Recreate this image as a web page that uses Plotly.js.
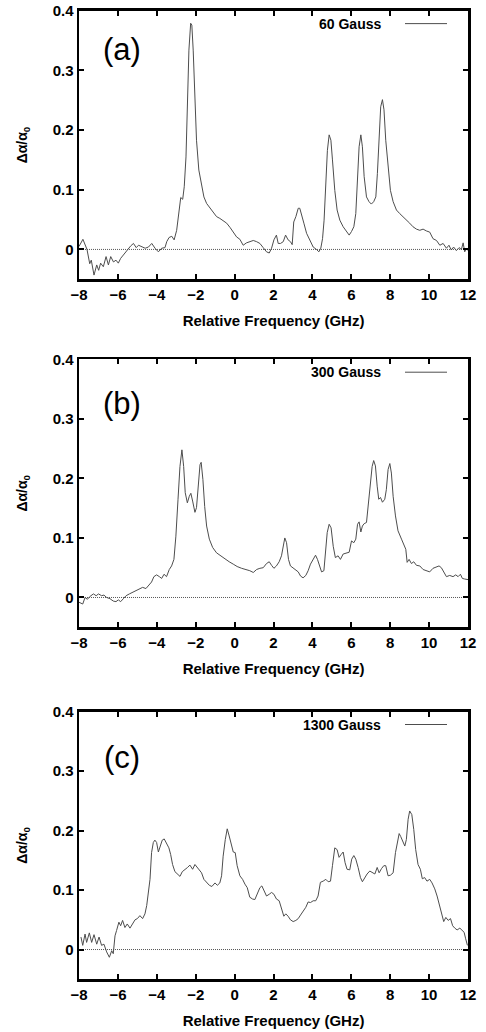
<!DOCTYPE html>
<html>
<head>
<meta charset="utf-8">
<script src="https://cdn.plot.ly/plotly-3.0.1.min.js"></script>
<style>html,body{margin:0;padding:0;background:#fff;}#chart{width:486px;height:1032px;}</style>
</head>
<body>
<div id="chart"></div>
<script>
// ---- Data ----
var panelLabels = ["(a)", "(b)", "(c)"];
var seriesNames = ["60 Gauss", "300 Gauss", "1300 Gauss"];
var xTickVals = [-8, -6, -4, -2, 0, 2, 4, 6, 8, 10, 12];
var yTickVals = [0, 0.1, 0.2, 0.3, 0.4];
var yTickText = ["0", "0.1", "0.2", "0.3", "0.4"];

var freqA = [-8.00,-7.80,-7.59,-7.45,-7.37,-7.23,-7.09,-6.99,-6.89,-6.75,-6.61,-6.49,-6.37,-6.23,-6.10,-5.98,-5.86,-5.72,-5.58,-5.46,-5.34,-5.20,-5.06,-4.94,-4.77,-4.60,-4.43,-4.26,-4.09,-3.92,-3.75,-3.58,-3.49,-3.37,-3.23,-3.11,-2.98,-2.86,-2.77,-2.67,-2.59,-2.50,-2.42,-2.35,-2.26,-2.20,-2.13,-2.04,-1.96,-1.84,-1.70,-1.58,-1.44,-1.27,-1.10,-0.93,-0.76,-0.59,-0.41,-0.24,-0.07,0.10,0.27,0.44,0.61,0.78,0.96,1.13,1.30,1.47,1.64,1.78,1.90,2.02,2.15,2.24,2.36,2.50,2.62,2.75,2.87,2.96,3.04,3.15,3.27,3.35,3.44,3.56,3.70,3.87,4.04,4.21,4.33,4.43,4.52,4.60,4.69,4.77,4.86,4.95,5.03,5.15,5.27,5.41,5.58,5.75,5.89,6.01,6.13,6.23,6.32,6.40,6.49,6.57,6.66,6.78,6.91,7.03,7.15,7.26,7.34,7.43,7.51,7.60,7.68,7.77,7.89,8.01,8.15,8.32,8.49,8.66,8.83,9.00,9.17,9.35,9.52,9.69,9.86,10.03,10.20,10.38,10.55,10.72,10.89,11.02,11.14,11.26,11.40,11.54,11.66,11.75,11.83,11.92,12.00];
var valsA = [0.005,0.017,0.000,-0.024,-0.018,-0.043,-0.026,-0.035,-0.023,-0.029,-0.012,-0.026,-0.012,-0.021,-0.018,-0.023,-0.015,-0.009,-0.004,0.002,0.006,0.010,0.003,0.007,0.004,0.002,0.004,0.010,0.002,-0.004,0.002,0.003,0.013,0.020,0.022,0.016,0.032,0.060,0.087,0.084,0.105,0.155,0.250,0.334,0.379,0.376,0.334,0.250,0.183,0.133,0.105,0.088,0.077,0.069,0.063,0.055,0.052,0.048,0.044,0.037,0.030,0.021,0.017,0.007,0.011,0.013,0.015,0.013,0.010,0.003,-0.004,-0.006,0.002,0.016,0.024,0.010,0.010,0.013,0.024,0.016,0.013,0.008,0.046,0.055,0.069,0.069,0.060,0.044,0.027,0.016,0.004,0.000,-0.004,0.002,0.018,0.049,0.105,0.166,0.192,0.183,0.150,0.099,0.066,0.049,0.038,0.030,0.024,0.030,0.038,0.060,0.110,0.172,0.192,0.172,0.122,0.088,0.080,0.076,0.080,0.088,0.127,0.194,0.239,0.251,0.234,0.183,0.133,0.099,0.080,0.066,0.060,0.055,0.049,0.044,0.038,0.034,0.032,0.034,0.031,0.029,0.018,0.015,0.007,0.010,0.002,0.007,-0.001,0.004,-0.002,0.003,0.000,0.011,-0.004,0.002,-0.002];

var freqB = [-8.00,-7.81,-7.69,-7.57,-7.43,-7.26,-7.12,-7.00,-6.84,-6.72,-6.58,-6.41,-6.24,-6.10,-5.98,-5.86,-5.72,-5.58,-5.41,-5.24,-5.07,-4.90,-4.73,-4.56,-4.39,-4.27,-4.15,-4.01,-3.87,-3.75,-3.63,-3.50,-3.36,-3.24,-3.12,-3.02,-2.91,-2.81,-2.71,-2.62,-2.54,-2.43,-2.33,-2.25,-2.16,-2.04,-1.96,-1.87,-1.78,-1.72,-1.63,-1.54,-1.44,-1.30,-1.13,-0.93,-0.72,-0.50,-0.28,-0.07,0.13,0.36,0.58,0.78,0.96,1.13,1.30,1.47,1.64,1.78,1.90,2.02,2.15,2.29,2.41,2.50,2.58,2.67,2.77,2.87,3.01,3.15,3.27,3.39,3.52,3.66,3.78,3.90,4.04,4.16,4.26,4.35,4.47,4.59,4.67,4.76,4.86,4.96,5.07,5.18,5.32,5.44,5.58,5.75,5.89,6.01,6.13,6.23,6.32,6.40,6.49,6.57,6.66,6.78,6.86,6.95,7.07,7.15,7.24,7.33,7.41,7.50,7.60,7.72,7.80,7.89,7.98,8.06,8.15,8.27,8.40,8.58,8.71,8.80,8.87,8.97,9.09,9.21,9.35,9.52,9.69,9.86,10.03,10.20,10.38,10.51,10.63,10.75,10.89,11.06,11.23,11.37,11.49,11.61,11.71,11.83,12.00];
var valsB = [-0.008,-0.011,0.000,-0.003,0.002,0.006,0.003,0.006,0.003,0.004,0.000,-0.002,-0.006,-0.007,-0.004,-0.007,-0.002,0.003,0.006,0.009,0.011,0.014,0.017,0.015,0.022,0.026,0.035,0.038,0.035,0.032,0.039,0.035,0.047,0.053,0.064,0.103,0.165,0.220,0.248,0.220,0.176,0.159,0.170,0.175,0.162,0.143,0.151,0.192,0.223,0.227,0.198,0.153,0.120,0.098,0.084,0.075,0.070,0.064,0.060,0.056,0.052,0.049,0.047,0.045,0.042,0.047,0.049,0.050,0.057,0.060,0.054,0.049,0.053,0.060,0.070,0.089,0.100,0.092,0.064,0.053,0.050,0.047,0.043,0.036,0.033,0.037,0.045,0.056,0.064,0.071,0.064,0.053,0.043,0.045,0.070,0.109,0.123,0.117,0.086,0.067,0.070,0.064,0.073,0.075,0.076,0.095,0.092,0.098,0.123,0.127,0.110,0.120,0.124,0.126,0.153,0.187,0.220,0.230,0.221,0.187,0.165,0.168,0.160,0.165,0.181,0.215,0.225,0.209,0.170,0.137,0.112,0.098,0.089,0.081,0.059,0.064,0.057,0.060,0.054,0.053,0.047,0.045,0.043,0.049,0.052,0.053,0.050,0.042,0.035,0.037,0.035,0.038,0.035,0.039,0.032,0.031,0.030];

var freqC = [-7.90,-7.81,-7.69,-7.61,-7.47,-7.35,-7.23,-7.09,-6.97,-6.84,-6.72,-6.58,-6.44,-6.32,-6.24,-6.15,-6.07,-5.95,-5.86,-5.76,-5.64,-5.52,-5.38,-5.24,-5.12,-5.00,-4.87,-4.73,-4.61,-4.52,-4.44,-4.35,-4.27,-4.18,-4.10,-4.01,-3.92,-3.84,-3.72,-3.62,-3.50,-3.38,-3.29,-3.19,-3.07,-2.95,-2.81,-2.69,-2.55,-2.42,-2.30,-2.16,-2.04,-1.92,-1.82,-1.70,-1.58,-1.44,-1.30,-1.17,-1.01,-0.89,-0.76,-0.67,-0.59,-0.48,-0.38,-0.28,-0.17,-0.07,0.03,0.13,0.27,0.41,0.53,0.65,0.78,0.92,1.04,1.16,1.30,1.40,1.50,1.64,1.78,1.90,2.02,2.15,2.29,2.41,2.53,2.63,2.75,2.87,3.01,3.15,3.27,3.39,3.52,3.66,3.78,3.90,4.04,4.17,4.29,4.41,4.55,4.69,4.81,4.93,5.03,5.15,5.27,5.37,5.48,5.58,5.68,5.78,5.92,6.02,6.13,6.23,6.35,6.47,6.57,6.69,6.81,6.95,7.08,7.21,7.33,7.43,7.55,7.67,7.77,7.89,8.01,8.15,8.27,8.37,8.46,8.54,8.63,8.75,8.83,8.92,9.00,9.11,9.21,9.31,9.43,9.55,9.65,9.77,9.89,10.03,10.15,10.29,10.41,10.55,10.65,10.75,10.86,10.98,11.10,11.21,11.32,11.44,11.58,11.70,11.80,11.88,11.97];
var valsC = [0.021,0.007,0.026,0.012,0.028,0.012,0.025,0.009,0.021,0.007,0.009,-0.004,-0.013,-0.002,-0.007,0.023,0.032,0.046,0.040,0.049,0.037,0.043,0.036,0.043,0.050,0.052,0.057,0.052,0.060,0.074,0.096,0.118,0.163,0.180,0.184,0.180,0.164,0.174,0.184,0.186,0.177,0.171,0.160,0.143,0.131,0.127,0.123,0.131,0.134,0.138,0.142,0.135,0.143,0.138,0.134,0.129,0.118,0.113,0.108,0.106,0.112,0.108,0.112,0.124,0.157,0.185,0.203,0.191,0.177,0.164,0.163,0.141,0.124,0.118,0.110,0.104,0.088,0.085,0.084,0.093,0.104,0.107,0.100,0.090,0.093,0.096,0.093,0.085,0.082,0.068,0.056,0.060,0.056,0.050,0.047,0.049,0.052,0.058,0.064,0.071,0.080,0.079,0.082,0.082,0.090,0.113,0.115,0.118,0.114,0.115,0.141,0.171,0.168,0.155,0.160,0.164,0.146,0.135,0.134,0.152,0.158,0.152,0.138,0.121,0.114,0.121,0.127,0.132,0.129,0.127,0.138,0.129,0.136,0.141,0.141,0.124,0.125,0.129,0.163,0.182,0.195,0.190,0.182,0.174,0.185,0.219,0.233,0.227,0.202,0.168,0.143,0.135,0.119,0.121,0.115,0.118,0.112,0.102,0.090,0.074,0.060,0.047,0.054,0.049,0.052,0.040,0.036,0.033,0.036,0.032,0.029,0.018,0.007];

// ---- Build figure ----
var xs = [freqA, freqB, freqC];
var ys = [valsA, valsB, valsC];
var yDomains = [[0.7294, 0.9896], [0.3922, 0.6518], [0.0511, 0.3104]];
var labelY = [0.854, 0.837, 0.827];
var xDomain = [0.1626, 0.9630];
var lineColor = "#4d4d4d";
var fam = "Liberation Sans, Arial, sans-serif";
var tickFont = {family: fam, size: 15, color: "#000", weight: "bold"};

var traces = [];
var layout = {
  width: 486, height: 1032,
  margin: {l: 0, r: 0, t: 0, b: 0},
  paper_bgcolor: "#fff", plot_bgcolor: "#fff",
  showlegend: false,
  font: {family: fam, color: "#000"},
  annotations: [], shapes: []
};

for (var i = 0; i < 3; i++) {
  var sx = i === 0 ? "" : String(i + 1);
  traces.push({
    type: "scatter", mode: "lines", name: seriesNames[i],
    x: xs[i], y: ys[i], xaxis: "x" + sx, yaxis: "y" + sx,
    line: {color: lineColor, width: 1}, hoverinfo: "skip"
  });
  layout["xaxis" + sx] = {
    domain: xDomain, anchor: "y" + sx, range: [-8, 12],
    tickmode: "array", tickvals: xTickVals,
    ticks: "inside", ticklen: 5, tickwidth: 2, tickcolor: "#000",
    showline: true, linewidth: 2.5, linecolor: "#000", mirror: "allticks",
    showgrid: false, zeroline: false, tickfont: tickFont,
    title: {text: "Relative Frequency (GHz)", font: {family: fam, size: 15, weight: "bold", color: "#000"}, standoff: 14},
    automargin: false
  };
  layout["yaxis" + sx] = {
    domain: yDomains[i], anchor: "x" + sx, range: [-0.05, 0.4],
    tickmode: "array", tickvals: yTickVals, ticktext: yTickText,
    ticks: "inside", ticklen: 5, tickwidth: 2, tickcolor: "#000",
    showline: true, linewidth: 2.5, linecolor: "#000", mirror: "allticks",
    showgrid: false, zeroline: false, tickfont: tickFont,
    title: {text: "\u0394\u03b1/\u03b1<sub>0</sub>", font: {family: fam, size: 14, weight: "bold", color: "#000"}, standoff: 22},
    automargin: false
  };
  // zero reference line (dotted)
  layout.shapes.push({type: "line", xref: "x" + sx + " domain", x0: 0, x1: 1, yref: "y" + sx, y0: 0, y1: 0,
    line: {color: "#555", width: 1, dash: "1px,1px"}, layer: "below"});
  // legend sample line
  layout.shapes.push({type: "line", xref: "x" + sx + " domain", x0: 0.838, x1: 0.946, yref: "y" + sx + " domain", y0: 0.952, y1: 0.952,
    line: {color: lineColor, width: 1}});
  layout.annotations.push({xref: "x" + sx + " domain", yref: "y" + sx + " domain", x: 0.7815, y: 0.952,
    xanchor: "right", yanchor: "middle", showarrow: false, text: seriesNames[i],
    font: {family: fam, size: 14, weight: "bold", color: "#000"}});
  layout.annotations.push({xref: "x" + sx + " domain", yref: "y" + sx + " domain", x: 0.11, y: labelY[i],
    xanchor: "center", yanchor: "middle", showarrow: false, text: panelLabels[i],
    font: {family: fam, size: 31, color: "#000"}});
}

Plotly.newPlot("chart", traces, layout, {staticPlot: true, displayModeBar: false});
</script>
</body>
</html>
